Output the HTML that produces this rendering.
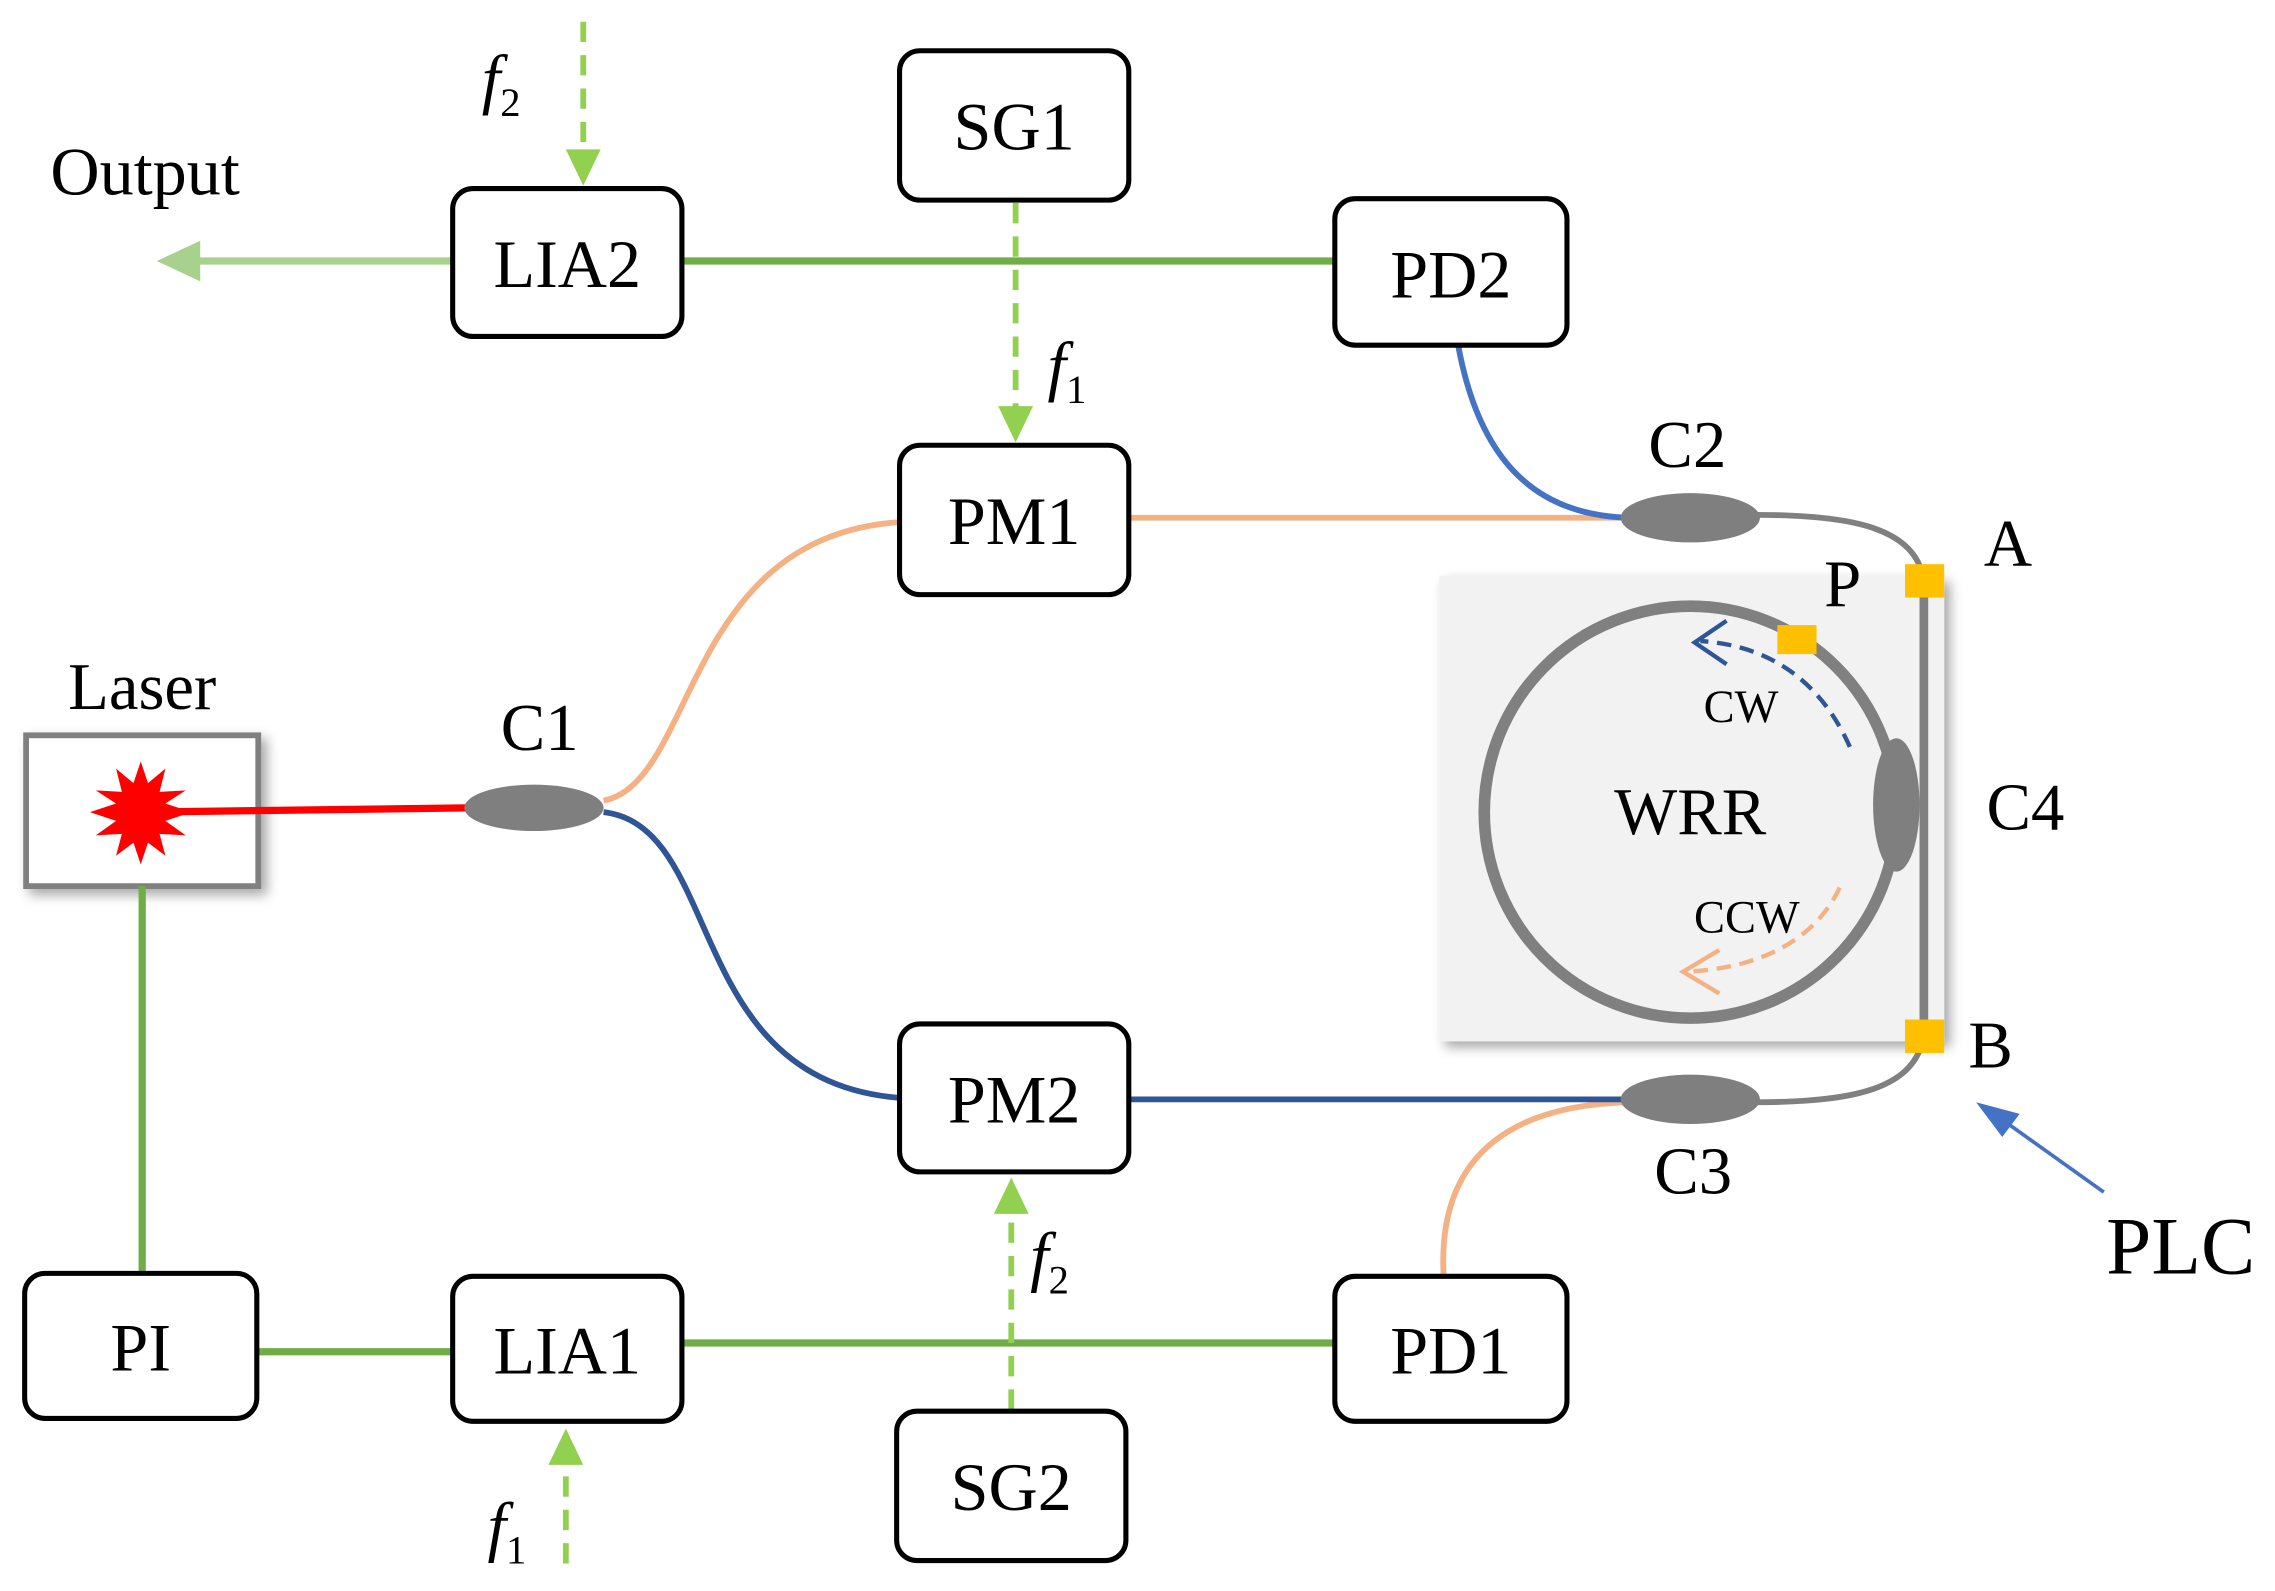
<!DOCTYPE html>
<html><head><meta charset="utf-8"><style>
html,body{margin:0;padding:0;background:#fff;}
svg{display:block;}
text{font-family:"Liberation Serif",serif;fill:#000;}
</style></head><body>
<svg width="2275" height="1591" viewBox="0 0 1568 1097" preserveAspectRatio="none" xmlns="http://www.w3.org/2000/svg">
<defs>
<filter id="sh" x="-10%" y="-10%" width="130%" height="130%"><feDropShadow dx="4" dy="4" stdDeviation="4" flood-color="#000" flood-opacity="0.35"/></filter>
</defs>
<rect x="992" y="397" width="348" height="321" fill="#f2f2f2" filter="url(#sh)"/>
<circle cx="1165" cy="560" r="142" fill="none" stroke="#808080" stroke-width="8"/>
<line x1="1326" y1="400" x2="1326" y2="714" stroke="#808080" stroke-width="6"/>
<ellipse cx="1307" cy="555" rx="16" ry="46" fill="#7f7f7f"/>
<rect x="18" y="507" width="160" height="104" fill="#fff" stroke="#808080" stroke-width="4" filter="url(#sh)"/>
<g stroke="#70ad47" stroke-width="5" fill="none">
<line x1="470" y1="180" x2="920" y2="180"/>
<line x1="98" y1="611" x2="98" y2="878"/>
<line x1="177" y1="932" x2="312" y2="932"/>
<line x1="470" y1="926" x2="920" y2="926"/>
</g>
<line x1="312" y1="180" x2="130" y2="180" stroke="#a9d18e" stroke-width="5"/>
<polygon points="108,180 138,166 138,194" fill="#a9d18e"/>
<g stroke="#92d050" stroke-width="4" stroke-dasharray="14,9" fill="none">
<line x1="402" y1="15" x2="402" y2="108"/>
<line x1="700" y1="140" x2="700" y2="285"/>
<line x1="697" y1="972" x2="697" y2="835"/>
<line x1="390" y1="1078" x2="390" y2="1008"/>
</g>
<g fill="#92d050">
<polygon points="402,128 390,103 414,103"/>
<polygon points="700,305 688,280 712,280"/>
<polygon points="697,812 685,837 709,837"/>
<polygon points="390,985 378,1010 402,1010"/>
</g>
<line x1="98" y1="560" x2="322" y2="557" stroke="#ff0000" stroke-width="5"/>
<g stroke="#f4b183" stroke-width="4" fill="none">
<path d="M416,552 C480,540 470,370 620,360"/>
<line x1="778" y1="357" x2="1120" y2="357"/>
<path d="M995,880 C990,790 1050,762 1122,760"/>
</g>
<path d="M1005,238 C1020,320 1060,355 1122,357" stroke="#4472c4" stroke-width="4" fill="none"/>
<g stroke="#2f5597" stroke-width="4" fill="none">
<path d="M416,560 C500,570 470,745 620,757"/>
<line x1="778" y1="758" x2="1120" y2="758"/>
</g>
<g stroke="#808080" stroke-width="4" fill="none">
<path d="M1210,355 C1280,355 1320,365 1326,400"/>
<path d="M1210,760 C1280,760 1320,750 1326,714"/>
</g>
<g fill="#7f7f7f">
<ellipse cx="368" cy="557" rx="48" ry="16"/>
<ellipse cx="1165" cy="357" rx="48" ry="17"/>
<ellipse cx="1165" cy="758" rx="48" ry="17"/>
</g>
<g fill="#ffc000">
<rect x="1313" y="389" width="27" height="23"/>
<rect x="1313" y="703" width="27" height="23"/>
<rect x="1225" y="431" width="27" height="20"/>
</g>
<path d="M1275,515 C1255,470 1220,445 1172,442" stroke="#2f5597" stroke-width="3" stroke-dasharray="10,6" fill="none"/>
<polyline points="1190,428 1168,443 1190,458" stroke="#2f5597" stroke-width="3" fill="none"/>
<path d="M1268,612 C1250,650 1210,668 1162,670" stroke="#f4b183" stroke-width="3" stroke-dasharray="10,6" fill="none"/>
<polyline points="1185,655 1160,670 1185,685" stroke="#f4b183" stroke-width="3" fill="none"/>
<polygon fill="#ff0000" points="97,525 102,540 114,530 110,546 128,545 114,554 132,560 114,566 128,576 110,575 114,590 102,581 97,596 92,581 80,590 84,575 66,576 80,566 62,560 80,554 66,545 84,546 80,530 92,540"/>
<line x1="1450" y1="822" x2="1380" y2="772" stroke="#4472c4" stroke-width="2.5"/>
<polygon points="1362,760 1392,768 1380,784" fill="#4472c4"/>
<g fill="#fff" stroke="#000" stroke-width="3.5">
<rect x="620" y="35" width="158" height="103" rx="14"/>
<rect x="312" y="130" width="158" height="102" rx="14"/>
<rect x="920" y="137" width="160" height="101" rx="14"/>
<rect x="620" y="307" width="158" height="103" rx="14"/>
<rect x="620" y="706" width="158" height="102" rx="14"/>
<rect x="17" y="878" width="160" height="100" rx="14"/>
<rect x="312" y="880" width="158" height="100" rx="14"/>
<rect x="920" y="880" width="160" height="100" rx="14"/>
<rect x="618" y="973" width="158" height="103" rx="14"/>
</g>
<g font-size="47" text-anchor="middle">
<text x="699" y="103">SG1</text>
<text x="391" y="198">LIA2</text>
<text x="1000" y="205">PD2</text>
<text x="699" y="375">PM1</text>
<text x="699" y="774">PM2</text>
<text x="97" y="945">PI</text>
<text x="391" y="947">LIA1</text>
<text x="1000" y="947">PD1</text>
<text x="697" y="1041">SG2</text>
<text x="100" y="134" font-size="47">Output</text>
<text x="98" y="489" font-size="46">Laser</text>
<text x="372" y="517" font-size="46">C1</text>
<text x="1163" y="322" font-size="46">C2</text>
<text x="1167" y="823" font-size="46">C3</text>
<text x="1396" y="572" font-size="46">C4</text>
<text x="1384" y="390" font-size="46">A</text>
<text x="1372" y="736" font-size="46">B</text>
<text x="1270" y="418" font-size="46">P</text>
<text x="1165" y="575" font-size="46">WRR</text>
<text x="1200" y="498" font-size="32">CW</text>
<text x="1204" y="643" font-size="32">CCW</text>
<text x="1503" y="878" font-size="56">PLC</text>
</g>
<g font-size="46" font-style="italic">
<text x="332" y="70">f<tspan font-size="28" font-style="normal" dy="10">2</tspan></text>
<text x="722" y="268">f<tspan font-size="28" font-style="normal" dy="10">1</tspan></text>
<text x="710" y="882">f<tspan font-size="28" font-style="normal" dy="10">2</tspan></text>
<text x="336" y="1068">f<tspan font-size="28" font-style="normal" dy="10">1</tspan></text>
</g>
</svg>
</body></html>
